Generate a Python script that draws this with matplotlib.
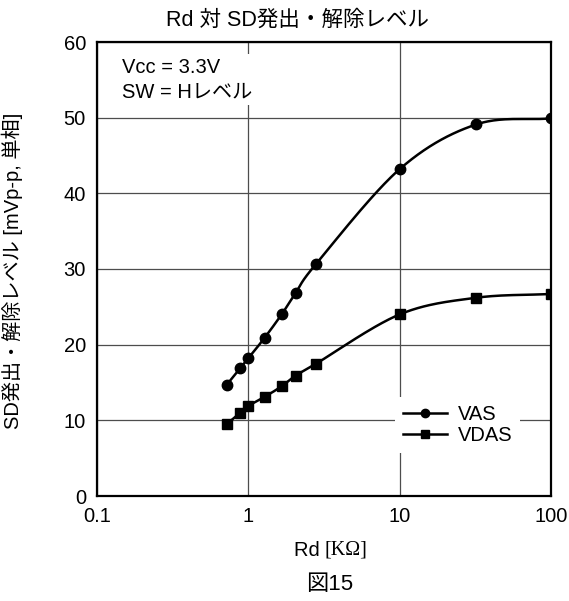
import numpy as np
import matplotlib.pyplot as plt

# data
rd = [0.72, 0.885, 1.0, 1.28, 1.66, 2.05, 2.81, 10.0, 32.0, 100.0]
vas = [14.7, 16.9, 18.2, 20.9, 24.0, 26.8, 30.7, 43.2, 49.1, 49.9]
vdas = [9.5, 11.0, 11.9, 13.1, 14.5, 15.9, 17.5, 24.0, 26.2, 26.7]

CJK = ['Liberation Sans', 'Noto Sans CJK JP']
plt.rcParams['font.family'] = CJK


def smooth(xs, ys, n=40):
    # catmull-rom in log-x space, like the smoothed line of a spreadsheet
    lx = np.log10(xs)
    y = np.asarray(ys, float)
    P = np.column_stack([lx, y])
    P = np.vstack([P[0] - (P[1] - P[0]), P, P[-1] + (P[-1] - P[-2])])
    out = []
    for i in range(1, len(P) - 2):
        p0, p1, p2, p3 = P[i - 1], P[i], P[i + 1], P[i + 2]
        t = np.linspace(0, 1, n)[:, None]
        c = 0.5 * ((2 * p1) + (-p0 + p2) * t + (2 * p0 - 5 * p1 + 4 * p2 - p3) * t ** 2
                   + (-p0 + 3 * p1 - 3 * p2 + p3) * t ** 3)
        out.append(c)
    c = np.vstack(out)
    return 10 ** c[:, 0], c[:, 1]


fig = plt.figure(figsize=(5.69, 6.01), dpi=100)
ax = fig.add_axes([97 / 569, 1 - 496 / 601, 454 / 569, 454 / 601])

ax.set_xscale('log')
ax.set_xlim(0.1, 100)
ax.set_ylim(0, 60)
ax.set_xticks([0.1, 1, 10, 100])
ax.set_xticklabels(['0.1', '1', '10', '100'])
ax.set_yticks(range(0, 61, 10))
ax.xaxis.set_minor_locator(plt.NullLocator())
ax.tick_params(length=0, labelsize=14.5, pad=8)
ax.grid(True, which='major', color='0.3', lw=0.9)
ax.set_axisbelow(True)
for s in ax.spines.values():
    s.set_linewidth(1.6)

sx, sy = smooth(rd, vas)
ax.plot(sx, sy, color='black', lw=1.8, zorder=3)
ax.plot(rd, vas, 'o', color='black', ms=7.5, zorder=4)
sx, sy = smooth(rd, vdas)
ax.plot(sx, sy, color='black', lw=1.8, zorder=3)
ax.plot(rd, vdas, 's', color='black', ms=7, zorder=4)

# legend
ax.plot([], [], '-o', color='black', lw=1.8, ms=6, label='VAS')
ax.plot([], [], '-s', color='black', lw=1.8, ms=5.5, label='VDAS')
h, l = ax.get_legend_handles_labels()
leg = ax.legend(h[-2:], l[-2:], loc='upper left', bbox_to_anchor=(288 / 454, 1 - 345 / 454),
                frameon=True, fontsize=14.5, handlelength=2.2, handletextpad=0.5,
                labelspacing=0.1, borderpad=0.4)
leg.get_frame().set_edgecolor('none')
leg.get_frame().set_facecolor('white')
leg.get_frame().set_alpha(1)

ax.text(25 / 454, 1 - 16 / 454, 'Vcc = 3.3V\nSW = Hレベル', transform=ax.transAxes,
        fontsize=14.5, va='top', ha='left', linespacing=1.35,
        bbox=dict(facecolor='white', edgecolor='none', pad=3), zorder=5)

fig.text(297 / 569, 1 - 20 / 601, 'Rd 対 SD発出・解除レベル', ha='center', va='center', fontsize=15.5)
fig.text(12 / 569, 1 - 271 / 601, 'SD発出・解除レベル [mVp-p, 単相]', rotation=90,
         ha='center', va='center', fontsize=14.5)
t1 = fig.text(325 / 569, 1 - 550 / 601, 'Rd ', ha='right', va='center', fontsize=14.5)
ax.annotate('[KΩ]', xy=(1, 0), xycoords=t1, va='bottom', ha='left',
            fontsize=14.5, family='Liberation Serif')
fig.text(330 / 569, 1 - 585 / 601, '図15', ha='center', va='center', fontsize=16)

fig.savefig('out.png', dpi=100)
